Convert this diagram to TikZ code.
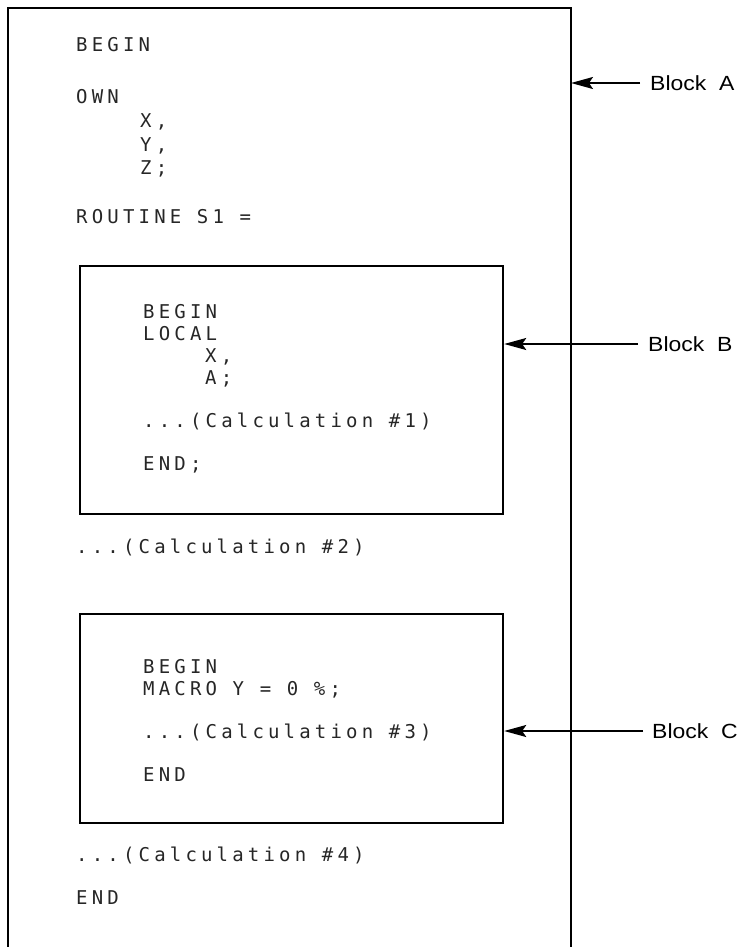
\documentclass[tikz,border=0pt]{standalone}
\usepackage{fontspec}
\setmainfont{Liberation Sans}
\newfontfamily\codefont[LetterSpace=22]{DejaVu Sans Mono}
\newfontfamily\labelfont[FakeStretch=1.12]{Liberation Sans}
\usetikzlibrary{arrows.meta}
\begin{document}
\begin{tikzpicture}[x=1pt,y=-1pt,
  code/.style={anchor=base west,inner sep=0pt,text=black!85,font=\codefont\fontsize{19}{19}\selectfont},
  blocklabel/.style={anchor=west,inner sep=0pt,font=\labelfont\fontsize{20.5}{20.5}\selectfont},
  box/.style={draw,line width=2.2pt,anchor=north west,inner sep=0pt,minimum width=423pt},
  frame/.style={line width=2.4pt},
  pointer/.style={line width=1.6pt,-{Stealth[length=22pt,width=12pt,inset=4pt]}}]
\useasboundingbox (0,0) rectangle (738,947);
% outer block A (open at the bottom)
\coordinate (oBL) at (8,947);
\coordinate (oTL) at (8,8);
\coordinate (oTR) at (571,8);
\coordinate (oBR) at (571,947);
\draw[frame] (oBL) -- (oTL) -- (oTR) -- (oBR);
% inner blocks
\node[box,minimum height=248pt] (boxB) at (79,265) {};
\node[box,minimum height=209pt] (boxC) at (79,613) {};
% code lines, block A
\node[code] (a1) at (76,52) {BEGIN};
\node[code] (a2) at (76,104) {OWN};
\node[code] (a3) at (140,128) {X,};
\node[code] (a4) at (140,151) {Y,};
\node[code] (a5) at (140,174) {Z;};
\node[code] (a6) at (76,223) {ROUTINE S1 =};
% block B
\node[code] (b1) at (143,318) {BEGIN};
\node[code] (b2) at (143,340) {LOCAL};
\node[code] (b3) at (205,362) {X,};
\node[code] (b4) at (205,384) {A;};
\node[code] (b5) at (143,427) {...(Calculation \#1)};
\node[code] (b6) at (143,470) {END;};
% between
\node[code] (a7) at (76,553) {...(Calculation \#2)};
% block C
\node[code] (c1) at (143,673) {BEGIN};
\node[code] (c2) at (143,695) {MACRO Y = 0 \%;};
\node[code] (c3) at (143,738) {...(Calculation \#3)};
\node[code] (c4) at (143,781) {END};
% tail of block A
\node[code] (a8) at (76,861) {...(Calculation \#4)};
\node[code] (a9) at (76,904) {END};
% labels and pointers
\coordinate (pA) at (640,83);
\coordinate (pB) at (638,344);
\coordinate (pC) at (643,731);
\node[blocklabel] (lA) at (650,83) {Block~~A};
\node[blocklabel] (lB) at (648,344) {Block~~B};
\node[blocklabel] (lC) at (652,731) {Block~~C};
\draw[pointer] (pA) -- (pA -| oTR);
\draw[pointer] (pB) -- (pB -| boxB.east);
\draw[pointer] (pC) -- (pC -| boxC.east);
\end{tikzpicture}
\end{document}
